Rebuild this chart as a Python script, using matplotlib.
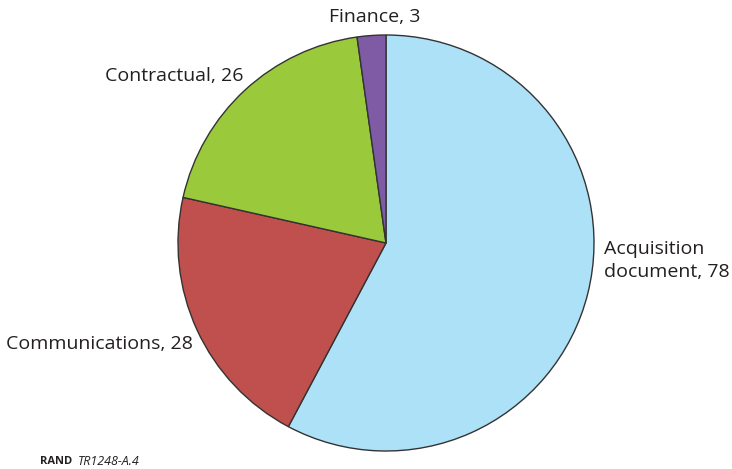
import matplotlib
matplotlib.use("Agg")
import matplotlib.pyplot as plt

categories = ["Acquisition\ndocument", "Communications", "Contractual", "Finance"]
values = [78, 28, 26, 3]
colors = ["#ADE1F8", "#C0504D", "#9ACA3C", "#7F5BA6"]

plt.rcParams['font.family'] = ['Open Sans', 'DejaVu Sans']

fig = plt.figure(figsize=(7.32, 4.69), dpi=100)
ax = fig.add_axes([178/732, (469-451)/469, 416/732, 416/469])
ax.pie(values, colors=colors, startangle=90, counterclock=False,
       wedgeprops=dict(edgecolor="#333333", linewidth=1.0), radius=1.0)
ax.set_xlim(-1, 1)
ax.set_ylim(-1, 1)
ax.set_aspect('equal')
ax.axis('off')

lab = [f"{c}, {v}" for c, v in zip(categories, values)]
fs = 14
ax.text(1.048, -0.082, lab[0], ha='left', va='center', fontsize=fs, color='#231f20', linespacing=1.35, clip_on=False)
ax.text(-0.928, -0.486, lab[1], ha='right', va='center', fontsize=fs, color='#231f20', clip_on=False)
ax.text(-0.683, 0.803, lab[2], ha='right', va='center', fontsize=fs, color='#231f20', clip_on=False)
ax.text(-0.053, 1.088, lab[3], ha='center', va='center', fontsize=fs, color='#231f20', clip_on=False)

fig.text(40/732, 1-461/469, "RAND", fontsize=8, fontweight='bold', ha='left', va='center', color='#231f20')
fig.text(78/732, 1-461/469, "TR1248-A.4", fontsize=9, fontstyle='italic', ha='left', va='center', color='#231f20')

fig.savefig("out.png", dpi=100)
